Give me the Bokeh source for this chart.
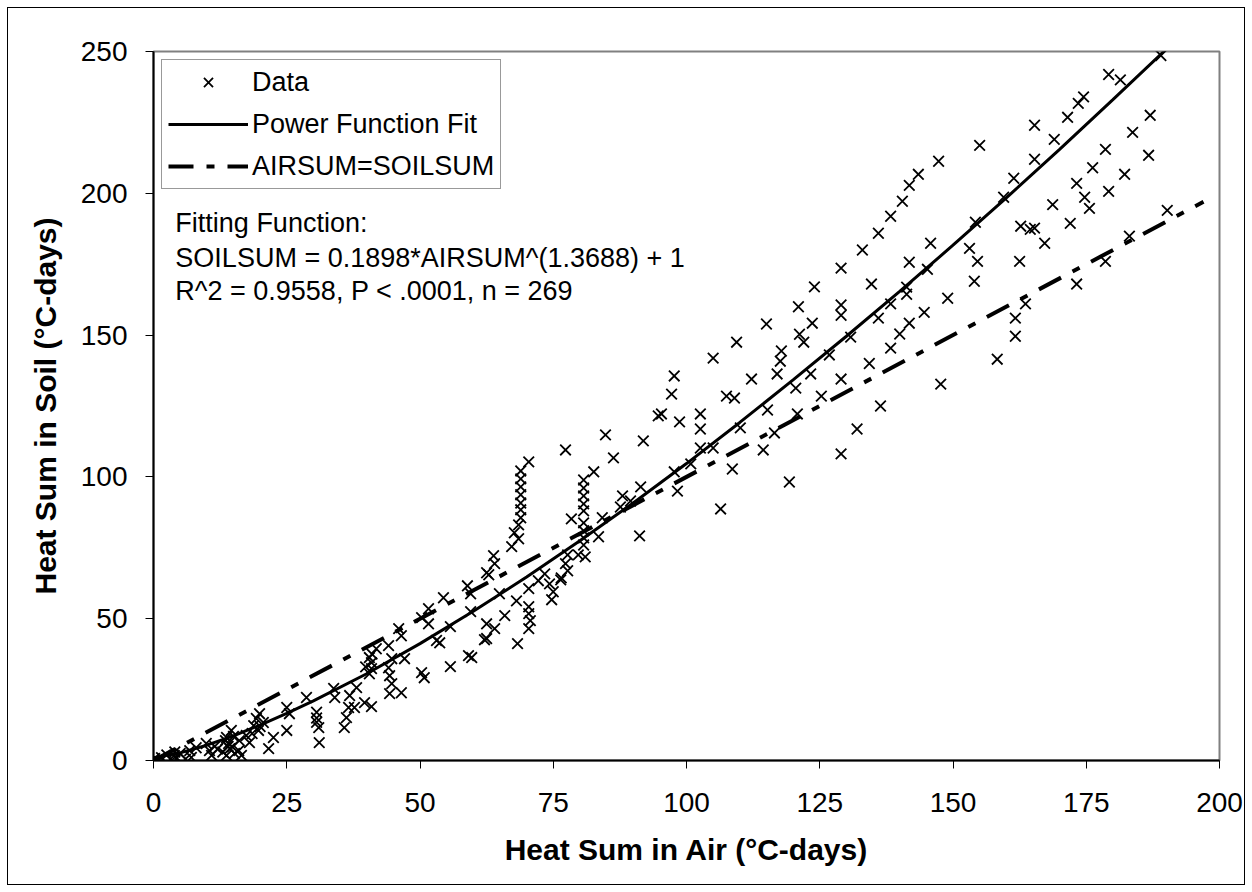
from bokeh.plotting import figure
from bokeh.models import Range1d, FixedTicker, Legend, LegendItem, Label
from bokeh.embed import file_html
from bokeh.resources import INLINE

# ---- data ----
air_sum = [
    0.2, 3.9, 4.3, 3.4, 6.8, 7.1, 9.9, 10.5, 10.9, 13.7, 14.1, 14.3, 14.6, 13.7, 15.2, 16.5, 16.1,
    17.4, 18.8, 19.3, 19.9, 20.6, 19.7, 18.0, 21.6, 22.5, 25.0, 25.0, 25.5,
    1.5, 2.5, 5.0, 6.0, 8.0, 12.0, 13.0, 14.0, 15.0, 14.8, 13.5, 4.0, 11.5, 16.0, 18.5, 20.0,
    28.7, 30.6, 30.6, 30.6, 31.0, 31.1, 33.8, 34.0, 36.8, 38.1, 36.6, 37.7, 36.2, 35.8, 39.6, 40.9,
    40.5, 40.9, 40.9, 40.5, 41.8, 44.1, 44.3, 44.7, 44.3, 46.5, 44.1, 44.7, 47.1, 46.5, 46.0,
    41.0, 39.8,
    51.6, 54.4, 58.9, 59.5, 62.5, 63.8, 64.0, 50.3, 51.6, 55.7, 53.1, 53.7, 59.5, 62.5, 62.1, 64.9,
    68.1, 70.4, 70.4, 70.7, 70.4, 65.9, 64.0, 62.5, 68.3, 50.3, 50.8, 55.7, 59.1, 59.7, 62.9,
    70.4, 68.9, 68.9, 68.9, 68.9, 68.9, 68.9, 68.9, 68.5, 67.7, 68.5, 67.2,
    82.6, 80.7, 80.7, 80.7, 80.7, 80.7, 78.4, 80.7, 80.7, 80.7, 80.7, 81.0, 79.7,
    84.2, 83.5, 88.0, 89.5, 91.4, 87.6, 91.2,
    77.7, 77.3, 77.7, 76.4, 74.7, 75.0, 73.4, 72.2, 70.4, 74.3, 76.5,
    77.3, 84.8, 86.3,
    94.7, 98.7, 91.9, 97.7, 98.3, 97.7, 97.2, 95.3, 102.6, 102.6, 105.0, 109.4, 107.5, 109.0,
    115.0, 117.8, 117.6, 117.0, 112.2, 120.5, 125.3, 115.2, 120.8, 110.1, 116.5, 102.6, 105.0,
    114.4, 100.8, 108.6, 119.3, 106.4, 124.0, 121.0, 123.6, 121.2, 122.0, 126.8, 123.3, 129.0,
    129.0, 129.0, 130.8, 129.0, 132.0, 129.0,
    133.0, 136.0, 138.3, 140.5, 141.8, 143.5, 147.3, 155.0, 145.8, 141.8, 145.2, 134.7, 141.3,
    141.3, 149.0, 138.3, 144.6, 136.0, 141.8, 140.0, 138.3, 134.3, 147.7, 136.4,
    161.4, 159.5, 154.2, 153.1, 154.6, 154.0, 162.5, 162.7, 164.5, 163.6, 161.7, 161.7, 158.3,
    189.0, 179.2, 181.4, 174.5, 173.5, 171.5, 169.0, 165.3, 165.3, 187.0, 183.7, 178.6, 186.7,
    176.2, 173.2, 182.2, 179.2, 174.7, 175.6, 168.7, 172.0, 165.3, 167.2, 190.2, 183.1, 178.6,
    173.2,
]
soil_sum = [
    0.7, 1.8, 0.7, 0.0, 3.5, 1.1, 6.0, 3.5, 1.8, 8.1, 6.0, 4.2, 10.6, 1.8, 2.5, 1.8, 7.0,
    8.8, 12.3, 14.8, 16.5, 13.4, 10.6, 6.3, 4.2, 8.1, 10.6, 18.7, 16.5,
    1.0, 2.0, 2.5, 0.5, 4.5, 4.0, 3.0, 5.0, 8.5, 4.8, 7.0, 3.0, 5.0, 3.5, 9.5, 12.0,
    22.2, 17.0, 15.0, 13.5, 11.6, 6.3, 25.4, 22.2, 22.9, 25.7, 18.7, 18.7, 15.1, 11.6, 20.4, 19.0,
    30.6, 34.5, 32.4, 36.3, 39.4, 32.7, 29.9, 27.1, 23.6, 23.9, 40.5, 35.9, 35.9, 44.0, 46.5,
    37.5, 33.0,
    53.5, 57.4, 61.6, 58.8, 66.2, 72.2, 69.4, 50.4, 48.2, 47.2, 42.3, 41.5, 52.5, 48.2, 42.6, 58.8,
    56.3, 54.2, 51.8, 49.3, 46.5, 51.1, 46.5, 43.0, 41.2, 31.0, 29.2, 33.1, 37.0, 36.3, 65.5,
    105.3, 102.1, 99.3, 96.5, 93.7, 90.8, 88.4, 85.6, 83.1, 80.3, 78.2, 75.4,
    101.8, 98.9, 96.1, 93.3, 90.5, 88.0, 85.2, 83.8, 81.0, 78.5, 76.0, 71.8, 72.5,
    85.6, 78.9, 93.3, 91.5, 96.5, 89.4, 79.2,
    72.5, 69.4, 66.9, 63.7, 56.7, 59.5, 65.8, 63.4, 60.6, 62.3, 64.4,
    109.5, 114.8, 106.7,
    121.5, 119.4, 112.7, 101.8, 95.0, 135.6, 129.2, 122.2, 122.2, 116.9, 141.9, 147.5, 128.5, 127.8,
    153.9, 144.4, 140.8, 136.3, 134.5, 131.3, 128.5, 123.6, 122.2, 117.3, 115.5, 110.2, 110.2,
    109.5, 104.6, 102.8, 98.2, 88.7, 167.0, 160.0, 154.2, 150.3, 147.5, 143.0, 136.3, 173.6,
    160.6, 157.0, 149.3, 134.5, 116.9, 108.1,
    180.0, 185.9, 191.9, 197.2, 202.8, 206.7, 211.3, 216.9, 182.4, 175.7, 173.2, 168.0, 166.9,
    164.4, 163.0, 161.0, 158.0, 156.0, 154.2, 150.4, 145.4, 140.0, 132.7, 125.0,
    205.3, 198.6, 189.8, 180.6, 176.0, 169.0, 176.0, 188.4, 187.3, 161.0, 156.0, 149.6, 141.5,
    248.6, 241.9, 240.0, 234.0, 231.7, 226.8, 219.0, 224.0, 212.0, 227.5, 221.5, 215.5, 213.4,
    209.0, 203.5, 206.7, 200.7, 198.6, 194.7, 196.0, 189.4, 187.7, 182.4, 194.0, 184.9, 176.0,
    168.0,
]

# power function fit
fit_air = [0, 5, 10, 15, 20, 25, 30, 40, 50, 60, 70, 80, 90, 100, 110, 120, 130, 140, 150,
           160, 170, 180, 190]
fit_soil = [1.0, 2.7, 5.4, 8.7, 12.5, 16.6, 21.0, 30.6, 41.2, 52.6, 64.7, 77.5, 90.8, 104.7,
            119.2, 134.2, 149.6, 165.4, 181.7, 198.4, 215.5, 233.0, 250.8]

# AIRSUM = SOILSUM line
eq_air = [0, 197]
eq_soil = [0, 197]

x_ticks = [0, 25, 50, 75, 100, 125, 150, 175, 200]
y_ticks = [0, 50, 100, 150, 200, 250]

FONT = "Liberation Sans"

# figure sits 8px inside the page; its CSS outline forms the chart's outer border
p = figure(width=1236, height=876, output_backend="svg", toolbar_location=None,
           x_range=Range1d(0, 200), y_range=Range1d(0, 250),
           min_border_left=145, min_border_right=25, min_border_top=43, min_border_bottom=124)
p.styles = {"margin-left": "8px", "margin-top": "8px",
            "outline": "1px solid black", "outline-offset": "0px"}
p.background_fill_color = "white"
p.border_fill_color = "white"
p.outline_line_color = "#808080"
p.outline_line_width = 2
p.xgrid.visible = False
p.ygrid.visible = False

for ax, ticks, title in ((p.xaxis[0], x_ticks, "Heat Sum in Air (°C-days)"),
                         (p.yaxis[0], y_ticks, "Heat Sum in Soil (°C-days)")):
    ax.ticker = FixedTicker(ticks=ticks)
    ax.axis_line_color = "black"
    ax.axis_line_width = 2
    ax.major_tick_line_color = "black"
    ax.major_tick_line_width = 1
    ax.major_tick_out = 8
    ax.major_tick_in = 0
    ax.minor_tick_line_color = None
    ax.major_label_text_font = FONT
    ax.major_label_text_font_size = "28px"
    ax.major_label_text_color = "black"
    ax.axis_label = title
    ax.axis_label_text_font = FONT
    ax.axis_label_text_font_style = "bold"
    ax.axis_label_text_font_size = "30px"
    ax.axis_label_text_color = "black"

p.xaxis[0].major_label_standoff = 24
p.xaxis[0].axis_label_standoff = 18
p.yaxis[0].major_label_standoff = 18
p.yaxis[0].axis_label_standoff = 16

eq_r = p.line(eq_air, eq_soil, line_color="black", line_width=4, line_dash="25 13 8 13")
fit_r = p.line(fit_air, fit_soil, line_color="black", line_width=3)
pts_r = p.scatter(air_sum, soil_sum, marker="x", size=15, line_color="black", line_width=1.8)

legend = Legend(items=[LegendItem(label="Data", renderers=[pts_r]),
                       LegendItem(label="Power Function Fit", renderers=[fit_r]),
                       LegendItem(label="AIRSUM=SOILSUM", renderers=[eq_r])],
                location="top_left", margin=8, padding=6, spacing=10,
                glyph_width=80, glyph_height=32, label_height=32, label_standoff=4,
                label_text_font=FONT, label_text_font_size="27px", label_text_color="black",
                border_line_color="#333333", border_line_width=1,
                background_fill_color="white", background_fill_alpha=1.0)
p.add_layout(legend)

for txt, yv in (("Fitting Function:", 189.5),
                ("SOILSUM = 0.1898*AIRSUM^(1.3688) + 1", 177.2),
                ("R^2 = 0.9558, P < .0001, n = 269", 165.4)):
    p.add_layout(Label(x=4.1, y=yv, text=txt, text_font=FONT, text_font_size="27px",
                       text_color="black", text_baseline="alphabetic", text_align="left"))

open("out.html", "w").write(file_html(p, INLINE))
